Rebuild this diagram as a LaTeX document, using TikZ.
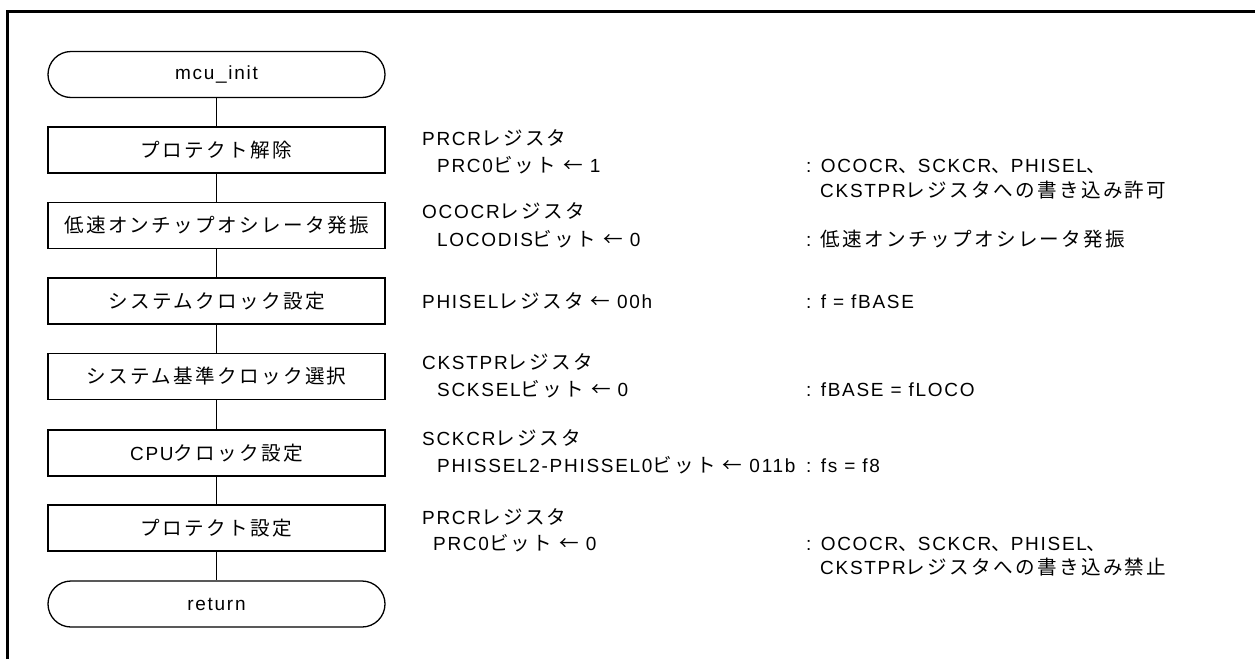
\documentclass[tikz,border=0pt]{standalone}
\usepackage{fontspec}
\setmainfont{Liberation Sans}[LetterSpace=9]
\newfontfamily\jpf{Noto Sans CJK JP}[Scale=1.03,LetterSpace=12]
\newcommand\J[1]{{\jpf #1}}
\begin{document}
\begin{tikzpicture}[x=1pt,y=-1pt,font=\fontsize{19}{24}\selectfont,
  proc/.style={draw, line width=1.3pt, minimum width=337pt, minimum height=46pt, inner sep=0pt},
  term/.style={proc, rounded corners=23pt},
  lbl/.style={anchor=base west, inner sep=0pt},
  conn/.style={line width=1.3pt},
  frameline/.style={line width=2.8pt}]
\useasboundingbox (0,0) rectangle (1255,659);
\draw[frameline] (7.3,659) -- (7.3,11.3) -- (1255,11.3);
% flow nodes
\node[term] (n0) at (216.5,74.5) {mcu\_init};
\node[proc] (n1) at (216.5,150) {\J{プロテクト解除}};
\node[proc] (n2) at (216.5,225.5) {\J{低速オンチップオシレータ発振}};
\node[proc] (n3) at (216.5,301) {\J{システムクロック設定}};
\node[proc] (n4) at (216.5,376.5) {\J{システム基準クロック選択}};
\node[proc] (n5) at (216.5,453) {CPU\J{クロック設定}};
\node[proc] (n6) at (216.5,528) {\J{プロテクト設定}};
\node[term] (n7) at (216.5,604) {return};
\draw[conn] (n0) -- (n1);
\draw[conn] (n1) -- (n2);
\draw[conn] (n2) -- (n3);
\draw[conn] (n3) -- (n4);
\draw[conn] (n4) -- (n5);
\draw[conn] (n5) -- (n6);
\draw[conn] (n6) -- (n7);
% step 1
\node[lbl] (a1) at (422,145) {PRCR\J{レジスタ}};
\node[lbl] (b1) at (437,172) {PRC0\J{ビット} \J{←} 1};
\node[lbl] (c1) at (806,172) {: OCOCR\J{、}SCKCR\J{、}PHISEL\J{、}};
\node[lbl] (d1) at (820,197) {CKSTPR\J{レジスタへの書き込み許可}};
% step 2
\node[lbl] (a2) at (422,218) {OCOCR\J{レジスタ}};
\node[lbl] (b2) at (437,246) {LOCODIS\J{ビット} \J{←} 0};
\node[lbl] (c2) at (806,246) {: \J{低速オンチップオシレータ発振}};
% step 3
\node[lbl] (a3) at (422,308) {PHISEL\J{レジスタ} \J{←} 00h};
\node[lbl] (c3) at (806,308) {: f = fBASE};
% step 4
\node[lbl] (a4) at (422,369) {CKSTPR\J{レジスタ}};
\node[lbl] (b4) at (437,396) {SCKSEL\J{ビット} \J{←} 0};
\node[lbl] (c4) at (806,396) {: fBASE = fLOCO};
% step 5
\node[lbl] (a5) at (422,445) {SCKCR\J{レジスタ}};
\node[lbl] (b5) at (437,472) {PHISSEL2-PHISSEL0\J{ビット} \J{←} 011b};
\node[lbl] (c5) at (806,472) {: fs = f8};
% step 6
\node[lbl] (a6) at (422,524) {PRCR\J{レジスタ}};
\node[lbl] (b6) at (433,550) {PRC0\J{ビット} \J{←} 0};
\node[lbl] (c6) at (806,550) {: OCOCR\J{、}SCKCR\J{、}PHISEL\J{、}};
\node[lbl] (d6) at (820,574) {CKSTPR\J{レジスタへの書き込み禁止}};
\end{tikzpicture}
\end{document}
